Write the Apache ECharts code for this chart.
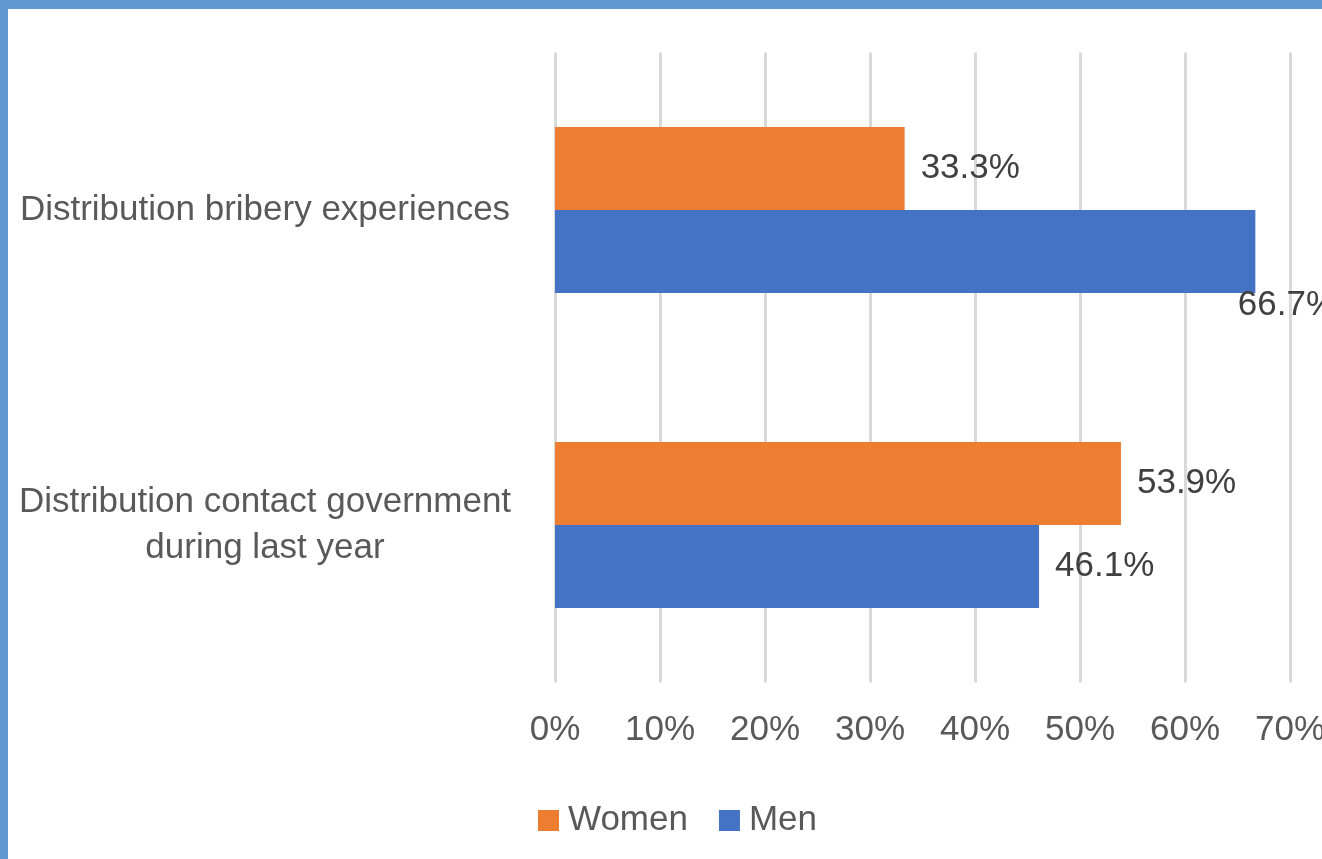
<!DOCTYPE html>
<html>
<head>
<meta charset="utf-8">
<script src="https://cdn.jsdelivr.net/npm/echarts@6/dist/echarts.min.js"></script>
<style>
html,body{margin:0;padding:0;background:#fff;}
#wrap{position:relative;width:1322px;height:859px;overflow:hidden;}
#chart{position:absolute;left:0;top:0;width:1322px;height:859px;}
#bt{position:absolute;left:0;top:0;width:1322px;height:9px;background:#6198D0;}
#bl{position:absolute;left:0;top:0;width:8px;height:859px;background:#6198D0;}
</style>
</head>
<body>
<div id="wrap"><div id="chart"></div><div id="bt"></div><div id="bl"></div></div>
<script>
var categories = ['Distribution bribery experiences', 'Distribution contact government\nduring last year'];
var women = [33.3, 53.9];
var men = [66.7, 46.1];
var xTicks = [0, 10, 20, 30, 40, 50, 60, 70];

var FONT = '"Liberation Sans", Arial, sans-serif';
var chart = echarts.init(document.getElementById('chart'));

function labelFmt(p) { return p.value.toFixed(1) + '%'; }

var menData = men.map(function (v, i) {
  if (i === 0) {
    return { value: v, label: { position: ['97.5%', '115%'], verticalAlign: 'middle', align: 'left' } };
  }
  return v;
});

chart.setOption({
  animation: false,
  backgroundColor: '#ffffff',
  grid: { left: 555, right: 32, top: 52.5, bottom: 176.5, containLabel: false, outerBoundsMode: 'none' },
  legend: {
    data: ['Women', 'Men'],
    left: 533, top: 798,
    icon: 'rect', itemWidth: 21, itemHeight: 21, itemGap: 31,
    textStyle: { fontFamily: FONT, fontSize: 35, color: '#595959', padding: [0, 0, 0, 4] }
  },
  xAxis: {
    type: 'value', min: xTicks[0], max: xTicks[xTicks.length - 1], interval: 10,
    axisLine: { show: false }, axisTick: { show: false },
    splitLine: { show: true, lineStyle: { color: '#d9d9d9', width: 3 } },
    axisLabel: { formatter: '{value}%', fontFamily: FONT, fontSize: 35, color: '#595959', margin: 30 }
  },
  yAxis: {
    type: 'category', data: categories, inverse: true,
    axisLine: { show: false }, axisTick: { show: false },
    axisLabel: { fontFamily: FONT, fontSize: 35, color: '#595959', align: 'center', margin: 290, lineHeight: 46 }
  },
  series: [
    {
      name: 'Women', type: 'bar', data: women, barWidth: 83, barGap: '0%',
      itemStyle: { color: '#ED7D31' },
      label: { show: true, position: 'right', distance: 16, formatter: labelFmt, fontFamily: FONT, fontSize: 35, color: '#404040' }
    },
    {
      name: 'Men', type: 'bar', data: menData, barWidth: 83, barGap: '0%',
      itemStyle: { color: '#4472C4' },
      label: { show: true, position: 'right', distance: 16, formatter: labelFmt, fontFamily: FONT, fontSize: 35, color: '#404040' }
    }
  ]
});
</script>
</body>
</html>
